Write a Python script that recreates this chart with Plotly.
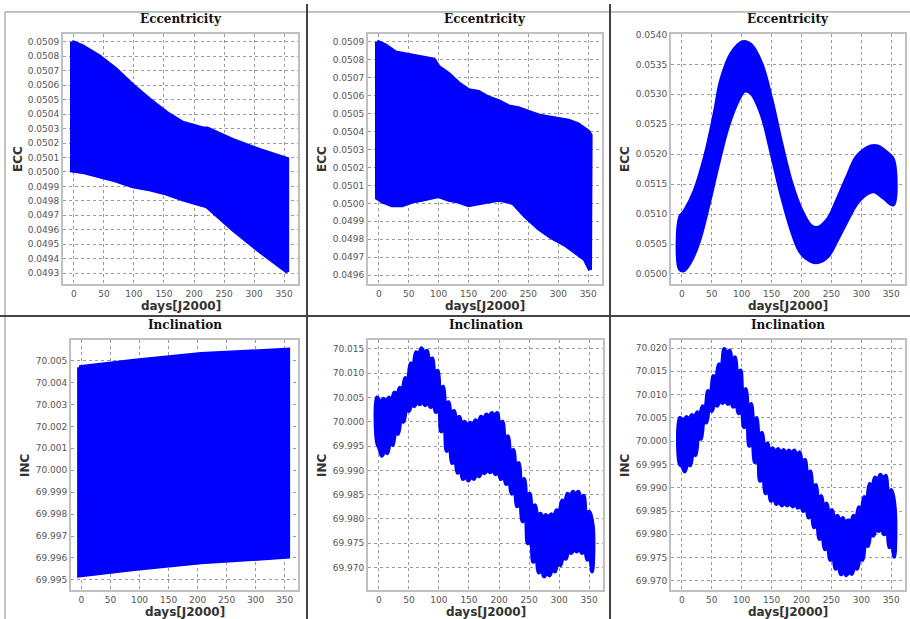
import plotly.graph_objects as go

W, H = 910, 619
BLUE = "#0000ff"

# ---------------- data (envelopes of the sampled point clouds) ----------------
# Panel 1: Eccentricity
ecc1_up_days = [-3, 14, 42, 70, 98, 126, 154, 181, 215, 222, 265, 310, 355]
ecc1_up_vals = [0.05090, 0.05087, 0.05080, 0.05071, 0.05060, 0.05050, 0.05041, 0.05034, 0.05030, 0.05030, 0.05022, 0.05015, 0.05009]
ecc1_lo_days = [-3, 14, 42, 70, 98, 126, 154, 181, 215, 222, 265, 310, 355]
ecc1_lo_vals = [0.05001, 0.05000, 0.04997, 0.04994, 0.04990, 0.04988, 0.04985, 0.04981, 0.04977, 0.04976, 0.04960, 0.04945, 0.04931]

# Panel 2: Eccentricity
ecc2_up_days = [-3, 11, 28, 44, 61, 78, 92, 100, 117, 133, 150, 167, 183, 200, 217, 233, 250, 267, 283, 300, 317, 333, 350, 354]
ecc2_up_vals = [0.05090, 0.05088, 0.05084, 0.05083, 0.05082, 0.05081, 0.05080, 0.05076, 0.05072, 0.05067, 0.05063, 0.05062, 0.05059, 0.05057, 0.05054, 0.05053, 0.05051, 0.05049, 0.05048, 0.05047, 0.05046, 0.05044, 0.05040, 0.05038]
ecc2_lo_days = [-3, 6, 22, 39, 56, 72, 89, 100, 117, 133, 150, 167, 183, 200, 217, 225, 244, 267, 289, 311, 328, 344, 353]
ecc2_lo_vals = [0.05003, 0.05001, 0.04999, 0.04999, 0.05001, 0.05002, 0.05003, 0.05004, 0.05002, 0.05001, 0.04999, 0.05000, 0.05001, 0.05002, 0.05001, 0.05000, 0.04993, 0.04986, 0.04981, 0.04977, 0.04973, 0.04969, 0.04963]

# Panel 3: Eccentricity
ecc3_up_days = [-3, 5, 22, 39, 55, 66, 83, 102, 116, 133, 150, 166, 183, 199, 216, 227, 244, 260, 277, 293, 316, 327, 343, 353]
ecc3_up_vals = [0.05094, 0.05105, 0.05140, 0.05196, 0.05268, 0.05324, 0.05368, 0.05387, 0.05382, 0.05351, 0.05290, 0.05219, 0.05152, 0.05108, 0.05080, 0.05077, 0.05091, 0.05124, 0.05163, 0.05196, 0.05213, 0.05213, 0.05202, 0.05191]
ecc3_lo_days = [-3, 3, 14, 28, 44, 61, 77, 94, 105, 116, 133, 150, 166, 183, 199, 216, 227, 244, 260, 277, 293, 310, 321, 338, 353]
ecc3_lo_vals = [0.05008, 0.05006, 0.05020, 0.05053, 0.05113, 0.05185, 0.05246, 0.05290, 0.05306, 0.05302, 0.05268, 0.05202, 0.05135, 0.05075, 0.05036, 0.05022, 0.05020, 0.05030, 0.05058, 0.05091, 0.05119, 0.05135, 0.05138, 0.05127, 0.05116]

# Panel 4: Inclination
inc4_up_days = [-4, 91, 206, 356]
inc4_up_vals = [70.0047, 70.0050, 70.0053, 70.0055]
inc4_lo_days = [-4, 91, 206, 356]
inc4_lo_vals = [69.9952, 69.9955, 69.9958, 69.99606]

# Panels 5 and 6: day grid of the envelope peaks / notches
peak_days = [-3, 8, 17, 26, 35, 44, 53, 62, 71, 80, 89, 98, 107, 116, 125, 134, 143, 152, 161, 170, 179,
             188, 197, 206, 215, 224, 233, 242, 251, 260, 269, 278, 287, 296, 305, 314, 323, 332, 341, 350, 356]
notch_days = [3, 12, 21, 30, 39, 48, 57, 66, 75, 84, 93, 102, 111, 120, 129, 138, 147, 156, 165, 174,
              183, 192, 201, 210, 219, 228, 237, 246, 255, 264, 273, 282, 291, 300, 309, 318, 327, 336, 345]
trough_days = [-3, 5, 14, 23, 32, 41, 50, 59, 68, 77, 86, 95, 104, 113, 122, 131, 140, 149, 158, 167, 176,
               185, 194, 203, 212, 221, 230, 239, 248, 257, 266, 275, 284, 293, 302, 311, 320, 329, 338, 347, 355]
bump_days = [1, 10, 19, 28, 37, 46, 55, 64, 73, 82, 91, 100, 109, 118, 127, 136, 145, 154, 163, 172,
             181, 190, 199, 208, 217, 226, 235, 244, 253, 262, 271, 280, 289, 298, 307, 316, 325, 334, 343, 351]

# Panel 5: Inclination
inc5_peak_vals = [70.0050, 70.0047, 70.0050, 70.0060, 70.0070, 70.0090, 70.0120, 70.0143, 70.0151, 70.0146,
                  70.0130, 70.0105, 70.0072, 70.0040, 70.0022, 70.0010, 70.0000, 69.9998, 70.0003, 70.0010,
                  70.0015, 70.0018, 70.0018, 70.0000, 69.9970, 69.9942, 69.9915, 69.9882, 69.9852, 69.9828,
                  69.9811, 69.9808, 69.9810, 69.9818, 69.9838, 69.9852, 69.9856, 69.9856, 69.9848, 69.9815, 69.9785]
inc5_notch_vals = [70.0040, 70.0040, 70.0043, 70.0053, 70.0063, 70.0084, 70.0114, 70.0137, 70.0140, 70.0124,
                   70.0099, 70.0066, 70.0034, 70.0016, 70.0004, 69.9994, 69.9992, 69.9992, 69.9997, 70.0004,
                   70.0009, 70.0012, 69.9994, 69.9964, 69.9936, 69.9909, 69.9876, 69.9846, 69.9822, 69.9805,
                   69.9802, 69.9802, 69.9804, 69.9812, 69.9832, 69.9846, 69.9850, 69.9842, 69.9809]
inc5_trough_vals = [69.9958, 69.9930, 69.9935, 69.9952, 69.9975, 70.0000, 70.0022, 70.0032, 70.0036, 70.0034,
                    70.0030, 70.0020, 69.9980, 69.9940, 69.9915, 69.9895, 69.9882, 69.9879, 69.9882, 69.9888,
                    69.9894, 69.9896, 69.9892, 69.9882, 69.9872, 69.9852, 69.9826, 69.9795, 69.9750, 69.9712,
                    69.9690, 69.9682, 69.9684, 69.9692, 69.9705, 69.9718, 69.9730, 69.9733, 69.9730, 69.9716, 69.9692]
inc5_bump_vals = [69.9945, 69.9941, 69.9958, 69.9981, 70.0006, 70.0028, 70.0038, 70.0042, 70.0042, 70.0040,
                  70.0036, 70.0026, 69.9986, 69.9946, 69.9921, 69.9901, 69.9888, 69.9888, 69.9894, 69.9900,
                  69.9902, 69.9902, 69.9898, 69.9888, 69.9878, 69.9858, 69.9832, 69.9801, 69.9756, 69.9718,
                  69.9696, 69.9690, 69.9698, 69.9711, 69.9724, 69.9736, 69.9739, 69.9739, 69.9736, 69.9722]

# Panel 6: Inclination
inc6_peak_vals = [70.0050, 70.0052, 70.0056, 70.0062, 70.0075, 70.0108, 70.0140, 70.0165, 70.0198, 70.0195,
                  70.0180, 70.0152, 70.0112, 70.0080, 70.0050, 70.0018, 69.9995, 69.9985, 69.9983, 69.9981,
                  69.9980, 69.9980, 69.9976, 69.9960, 69.9935, 69.9906, 69.9882, 69.9866, 69.9852, 69.9840,
                  69.9835, 69.9830, 69.9840, 69.9858, 69.9880, 69.9908, 69.9922, 69.9928, 69.9926, 69.9895, 69.9855]
inc6_notch_vals = [70.0043, 70.0045, 70.0049, 70.0055, 70.0068, 70.0101, 70.0133, 70.0158, 70.0188, 70.0173,
                   70.0145, 70.0105, 70.0073, 70.0043, 70.0011, 69.9988, 69.9978, 69.9976, 69.9974, 69.9973,
                   69.9973, 69.9969, 69.9953, 69.9928, 69.9899, 69.9875, 69.9859, 69.9845, 69.9833, 69.9828,
                   69.9823, 69.9823, 69.9833, 69.9851, 69.9873, 69.9901, 69.9915, 69.9919, 69.9888]
inc6_trough_vals = [69.9950, 69.9935, 69.9948, 69.9970, 70.0005, 70.0040, 70.0065, 70.0076, 70.0082, 70.0080,
                    70.0074, 70.0060, 70.0030, 69.9990, 69.9955, 69.9915, 69.9888, 69.9872, 69.9865, 69.9862,
                    69.9862, 69.9860, 69.9857, 69.9850, 69.9836, 69.9815, 69.9790, 69.9768, 69.9745, 69.9726,
                    69.9714, 69.9712, 69.9715, 69.9726, 69.9745, 69.9775, 69.9797, 69.9807, 69.9800, 69.9772, 69.9752]
inc6_bump_vals = [69.9946, 69.9954, 69.9976, 70.0011, 70.0046, 70.0071, 70.0082, 70.0088, 70.0088, 70.0086,
                  70.0080, 70.0066, 70.0036, 69.9996, 69.9961, 69.9921, 69.9894, 69.9878, 69.9871, 69.9868,
                  69.9868, 69.9866, 69.9863, 69.9856, 69.9842, 69.9821, 69.9796, 69.9774, 69.9751, 69.9732,
                  69.9720, 69.9721, 69.9732, 69.9751, 69.9781, 69.9803, 69.9813, 69.9813, 69.9806, 69.9778]

titles = ["Eccentricity", "Eccentricity", "Eccentricity", "Inclination", "Inclination", "Inclination"]
ylabels = ["ECC", "ECC", "ECC", "INC", "INC", "INC"]
xlabel = "days[J2000]"
x_ticks = [0, 50, 100, 150, 200, 250, 300, 350]


def merged(d1, v1, d2, v2):
    pairs = sorted(zip(list(d1) + list(d2), list(v1) + list(v2)))
    return [p[0] for p in pairs], [p[1] for p in pairs]


inc5_up_days, inc5_up_vals = merged(peak_days, inc5_peak_vals, notch_days, inc5_notch_vals)
inc5_lo_days, inc5_lo_vals = merged(trough_days, inc5_trough_vals, bump_days, inc5_bump_vals)
inc6_up_days, inc6_up_vals = merged(peak_days, inc6_peak_vals, notch_days, inc6_notch_vals)
inc6_lo_days, inc6_lo_vals = merged(trough_days, inc6_trough_vals, bump_days, inc6_bump_vals)

panels = [
    (ecc1_up_days, ecc1_up_vals, ecc1_lo_days, ecc1_lo_vals),
    (ecc2_up_days, ecc2_up_vals, ecc2_lo_days, ecc2_lo_vals),
    (ecc3_up_days, ecc3_up_vals, ecc3_lo_days, ecc3_lo_vals),
    (inc4_up_days, inc4_up_vals, inc4_lo_days, inc4_lo_vals),
    (inc5_up_days, inc5_up_vals, inc5_lo_days, inc5_lo_vals),
    (inc6_up_days, inc6_up_vals, inc6_lo_days, inc6_lo_vals),
]
shapes_kind = ["linear", "linear", "spline", "linear", "spline", "spline"]

# ---------------- layout geometry (pixels) ----------------
boxes = [  # x0, x1, y0(top), y1(bottom)
    (63, 298, 30, 282), (368, 602, 30, 282), (671, 905, 30, 282),
    (71, 298, 338, 590), (368, 603, 338, 590), (671, 905, 338, 590),
]
yranges = [
    (0.049224, 0.050955), (0.04955, 0.050944), (0.04983, 0.05401),
    (69.99453, 70.00595), (69.96536, 70.01684), (69.9680, 70.02177),
]
ydticks = [0.0001, 0.0001, 0.0005, 0.001, 0.005, 0.005]
yfmt = [".4f", ".4f", ".4f", ".3f", ".3f", ".3f"]
ylab_x = [18, 322, 625, 25, 322, 625]

fig = go.Figure()
layout = dict(
    width=W, height=H, margin=dict(l=0, r=0, t=0, b=0),
    paper_bgcolor="white", plot_bgcolor="white", showlegend=False,
    font=dict(family="DejaVu Sans", size=9, color="#555555"),
)
annotations = []
for i, (ud, uv, ld, lv) in enumerate(panels):
    n = i + 1
    xa = "x" if n == 1 else f"x{n}"
    ya = "y" if n == 1 else f"y{n}"
    x0, x1, y0, y1 = boxes[i]
    xs = list(ud) + list(ld)[::-1]
    ys = list(uv) + list(lv)[::-1]
    fig.add_trace(go.Scatter(x=xs + [xs[0]], y=ys + [ys[0]], mode="lines", fill="toself",
                             fillcolor=BLUE,
                             line=dict(color=BLUE, width=4, shape=shapes_kind[i], smoothing=1.0),
                             xaxis=xa, yaxis=ya, hoverinfo="skip"))
    axcommon = dict(showline=True, mirror=True, linecolor="#c0c0c0", linewidth=2,
                    showgrid=True, gridcolor="#9a9a9a", griddash="dot", gridwidth=1,
                    zeroline=False, ticks="",
                    tickfont=dict(family="DejaVu Sans", size=9, color="#555555"))
    layout["xaxis" if n == 1 else f"xaxis{n}"] = dict(
        domain=[x0 / W, x1 / W], anchor=ya, range=[-18, 373], tickvals=x_ticks, **axcommon)
    layout["yaxis" if n == 1 else f"yaxis{n}"] = dict(
        domain=[1 - y1 / H, 1 - y0 / H], anchor=xa, range=list(yranges[i]),
        dtick=ydticks[i], tick0=0, tickformat=yfmt[i], **axcommon)
    cx = (x0 + x1) / 2
    annotations.append(dict(text=f"<b>{titles[i]}</b>", x=cx / W, y=1 - (y0 - 15) / H,
                            xref="paper", yref="paper", showarrow=False,
                            xanchor="center", yanchor="middle",
                            font=dict(family="DejaVu Serif", size=12, color="#111111")))
    annotations.append(dict(text=f"<b>{xlabel}</b>", x=cx / W, y=1 - (y1 + 22) / H,
                            xref="paper", yref="paper", showarrow=False,
                            xanchor="center", yanchor="middle",
                            font=dict(family="DejaVu Sans", size=12, color="#333333")))
    annotations.append(dict(text=f"<b>{ylabels[i]}</b>", x=ylab_x[i] / W, y=1 - ((y0 + y1) / 2) / H,
                            xref="paper", yref="paper", showarrow=False, textangle=-90,
                            xanchor="center", yanchor="middle",
                            font=dict(family="DejaVu Sans", size=12, color="#333333")))

shapes = [
    dict(type="line", xref="paper", yref="paper", x0=5 / W, x1=1, y0=1 - 8 / H, y1=1 - 8 / H,
         line=dict(color="#8a8a8a", width=1)),
    dict(type="line", xref="paper", yref="paper", x0=5 / W, x1=5 / W, y0=0, y1=1 - 8 / H,
         line=dict(color="#8a8a8a", width=1)),
    dict(type="line", xref="paper", yref="paper", x0=307 / W, x1=307 / W, y0=0, y1=1,
         line=dict(color="#444444", width=2)),
    dict(type="line", xref="paper", yref="paper", x0=610 / W, x1=610 / W, y0=0, y1=1,
         line=dict(color="#444444", width=2)),
    dict(type="line", xref="paper", yref="paper", x0=0, x1=1, y0=1 - 314 / H, y1=1 - 314 / H,
         line=dict(color="#444444", width=2)),
]
layout["annotations"] = annotations
layout["shapes"] = shapes
fig.update_layout(**layout)
fig.write_html("out.html")
